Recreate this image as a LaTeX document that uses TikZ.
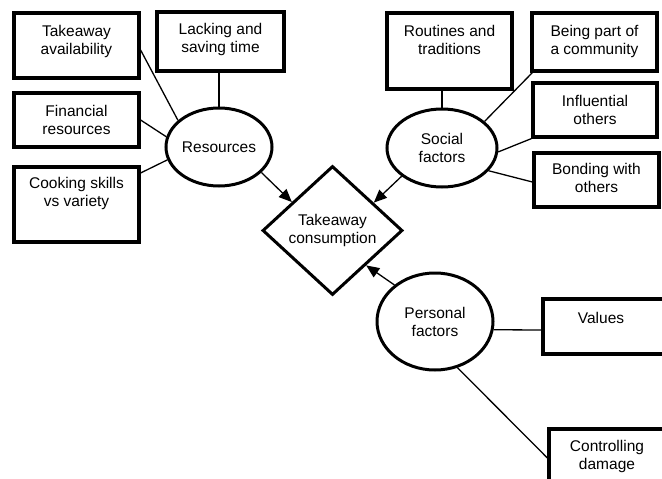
\documentclass[tikz,border=0pt]{standalone}
\usepackage{fontspec}
\setmainfont{Liberation Sans}
\usetikzlibrary{shapes.geometric,arrows.meta}
\tikzset{
  boxnode/.style={draw, line width=3.2pt, rectangle, inner sep=0pt},
  boxtext/.style={anchor=north, inner sep=0pt, align=center},
  ellnode/.style={draw, line width=3pt, ellipse, inner sep=0pt, align=center},
  dianode/.style={draw, line width=3pt, diamond, inner sep=0pt, align=center},
  link/.style={line width=1.3pt},
  arrowlink/.style={line width=1.3pt, -{Triangle[length=13pt,width=11pt]}},
}
\begin{document}
\begin{tikzpicture}[x=1pt, y=-1pt, font=\fontsize{15.5pt}{18pt}\selectfont]
\useasboundingbox (0,0) rectangle (662,479);
\clip (0,0) rectangle (662,479);
% boxes
\node[boxnode, minimum width=125pt, minimum height=65pt] (ta) at (76.5,45.5) {};
\node[boxtext] (tat) at (76.5,25) {Takeaway\\availability};
\node[boxnode, minimum width=127pt, minimum height=59pt] (lst) at (220.5,41.5) {};
\node[boxtext] (lstt) at (220.5,23) {Lacking and\\saving time};
\node[boxnode, minimum width=125pt, minimum height=54pt] (fr) at (76.5,120) {};
\node[boxtext] (frt) at (76.5,105) {Financial\\resources};
\node[boxnode, minimum width=125pt, minimum height=75pt] (csv) at (76.5,204.5) {};
\node[boxtext] (csvt) at (76.5,177) {Cooking skills\\vs variety};
\node[boxnode, minimum width=125pt, minimum height=76pt] (rt) at (449.5,51) {};
\node[boxtext] (rtt) at (449.5,25) {Routines and\\traditions};
\node[boxnode, minimum width=125pt, minimum height=58pt] (bpc) at (594.5,42) {};
\node[boxtext] (bpct) at (594.5,25) {Being part of\\a community};
\node[boxnode, minimum width=124pt, minimum height=54pt] (io) at (595,110) {};
\node[boxtext] (iot) at (595,95) {Influential\\others};
\node[boxnode, minimum width=125pt, minimum height=54pt] (bwo) at (596.5,180) {};
\node[boxtext] (bwot) at (596.5,163) {Bonding with\\others};
\node[boxnode, minimum width=129pt, minimum height=55pt] (val) at (607.5,326.5) {};
\node[boxtext] (valt) at (601,312) {Values};
\node[boxnode, minimum width=125pt, minimum height=71pt] (cd) at (611.5,464.5) {};
\node[boxtext] (cdt) at (607,440) {Controlling\\damage};
% ellipses and diamond
\node[ellnode, minimum width=106pt, minimum height=78pt] (res) at (219,147) {Resources};
\node[ellnode, minimum width=110pt, minimum height=78pt] (soc) at (442,148) {Social\\factors};
\node[ellnode, minimum width=116pt, minimum height=97pt] (per) at (435,321.5) {Personal\\factors};
\node[dianode, minimum width=140pt, minimum height=129pt] (dia) at (332.5,230.5) {Takeaway\\consumption};
% connectors
\draw[link] ([yshift=-4.5pt]ta.east) -- (res.147);
\draw[link] (res.north |- lst.south) -- (res.north);
\draw[link] (fr.east) -- (res.169);
\draw[link] ([yshift=31.5pt]csv.east) -- (res.194);
\draw[link] (soc.north |- rt.south) -- (soc.north);
\draw[link] ([xshift=2pt]bpc.south west) -- (soc.32);
\draw[link] (io.south west) -- (soc.-4);
\draw[link] ([yshift=-2pt]bwo.west) -- (soc.-26);
\draw[link] ([yshift=-3.5pt]val.west) -- (per.-8);
\draw[link] ([yshift=6.5pt]cd.west) -- (per.-64);
\draw[arrowlink] (res.-31) -- (dia.145);
\draw[arrowlink] (soc.215) -- (dia.34);
\draw[arrowlink] (per.138) -- (dia.-46);
\end{tikzpicture}
\end{document}
